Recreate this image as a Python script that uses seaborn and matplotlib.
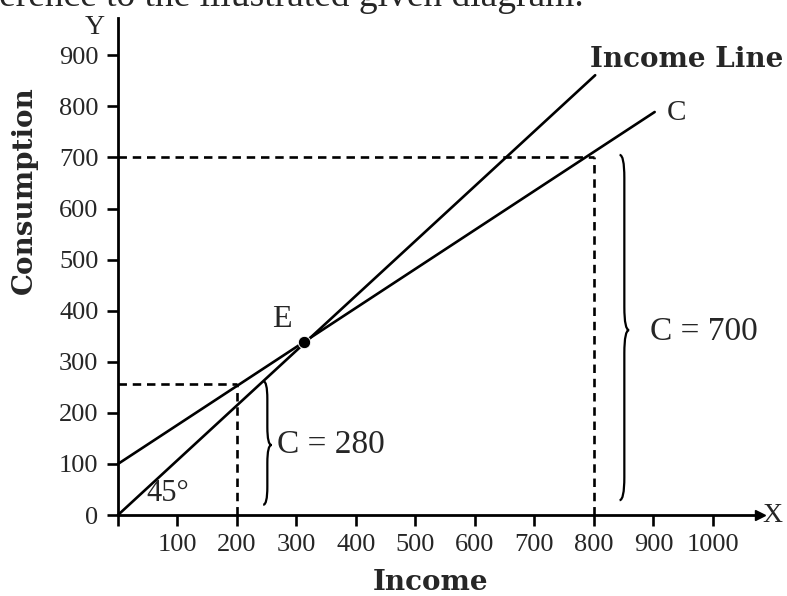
import numpy as np
import pandas as pd
import matplotlib.pyplot as plt
from matplotlib.path import Path
from matplotlib.patches import PathPatch
import seaborn as sns

# line end points
income_x = [0, 802]
income_y = [0, 861]
cons_x = [0, 902]
cons_y = [100, 789]
e_point = (313, 339)

# dashed guide levels
low_income, low_cons = 200, 256
high_income, high_cons = 800, 700

xticks = [0, 100, 200, 300, 400, 500, 600, 700, 800, 900, 1000]
xtick_labels = [""] + [str(v) for v in xticks[1:]]
yticks = [0, 100, 200, 300, 400, 500, 600, 700, 800, 900]

sns.set_style("white")
plt.rcParams['font.family'] = ['Liberation Serif', 'DejaVu Serif']

fig = plt.figure(figsize=(7.87, 5.96), dpi=100)
ax = fig.add_axes([118/787, 81/596, 642/787, 497/596])

lines = pd.DataFrame({"x": income_x + cons_x,
                      "y": income_y + cons_y,
                      "line": ["income"] * 2 + ["cons"] * 2})
sns.lineplot(data=lines, x="x", y="y", hue="line", palette=["black", "black"],
             linewidth=1.9, legend=False, ax=ax, clip_on=False)
sns.scatterplot(x=[e_point[0]], y=[e_point[1]], color="black", s=80, ax=ax,
                zorder=5, clip_on=False)

dash = dict(color="black", lw=1.9, linestyle=(0, (3.2, 2.2)))
ax.plot([0, high_income], [high_cons, high_cons], **dash)
ax.plot([high_income, high_income], [0, high_cons], **dash)
ax.plot([0, low_income], [low_cons, low_cons], **dash)
ax.plot([low_income, low_income], [0, low_cons], **dash)


def brace(ax, x0, w, y0, y1, ym, d):
    verts = [(x0, y1), (x0 + w, y1), (x0 + w, y1 - d), (x0 + w, ym + d),
             (x0 + w, ym), (x0 + 2 * w, ym), (x0 + w, ym), (x0 + w, ym - d),
             (x0 + w, y0 + d), (x0 + w, y0), (x0, y0)]
    codes = [Path.MOVETO, Path.CURVE3, Path.CURVE3, Path.LINETO,
             Path.CURVE3, Path.CURVE3, Path.CURVE3, Path.CURVE3,
             Path.LINETO, Path.CURVE3, Path.CURVE3]
    ax.add_patch(PathPatch(Path(verts, codes), fill=False, lw=1.6, color="black"))


brace(ax, 244, 7, 20, 262, 137, 35)
brace(ax, 843, 8, 29, 705, 362, 45)

ax.set_xlim(0, 1079)
ax.set_ylim(0, 973)
ax.set_xticks(xticks)
ax.set_xticklabels(xtick_labels)
ax.set_yticks(yticks)
ax.tick_params(direction="out", length=8, width=1.9, labelsize=19, pad=6,
               color="black", left=True, bottom=True)
ax.set_xlabel("")
ax.set_ylabel("")
for s in ["top", "right"]:
    ax.spines[s].set_visible(False)
for s in ["left", "bottom"]:
    ax.spines[s].set_linewidth(2.0)
    ax.spines[s].set_color("black")
ax.plot([1], [0], marker=">", color="black", markersize=7,
        transform=ax.transAxes, clip_on=False)

ax.text(1099, 0, "X", fontsize=20, va="center", ha="center")
ax.text(-39, 955, "Y", fontsize=20, va="center", ha="center")
ax.text(793, 877, "Income Line", fontsize=20, fontweight="bold",
        family="DejaVu Serif", va="baseline", ha="left")
ax.text(923, 787, "C", fontsize=21, va="center", ha="left")
ax.text(276, 382, "E", fontsize=23, va="center", ha="center")
ax.text(47, 43, "45°", fontsize=22, va="center", ha="left")
ax.text(267, 137, "C = 280", fontsize=24, va="center", ha="left")
ax.text(894, 358, "C = 700", fontsize=24, va="center", ha="left")

fig.text(431/787, 1 - 590/596, "Income", fontsize=20, fontweight="bold",
         family="DejaVu Serif", ha="center", va="baseline")
fig.text(24/787, 1 - 190/596, "Consumption", fontsize=20, fontweight="bold",
         family="DejaVu Serif", rotation=90, ha="center", va="center")
fig.text(-1/787, 1 - 6/596, "erence to the illustrated given diagram.",
         fontsize=27, ha="left", va="baseline")

fig.savefig("out.png", dpi=100)
